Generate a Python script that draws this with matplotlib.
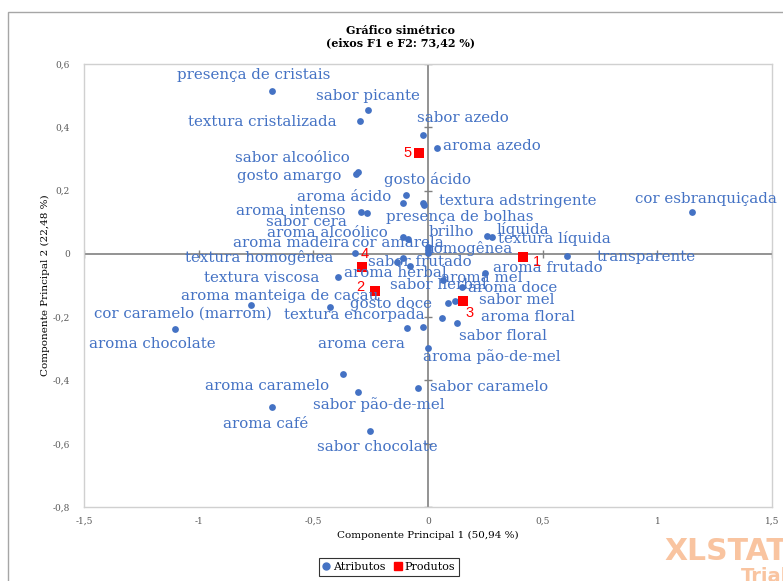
import matplotlib
matplotlib.use("Agg")
import matplotlib.pyplot as plt
from matplotlib.patches import Rectangle
from matplotlib.lines import Line2D

# ---------------- data ----------------
attr_names = [
    "presença de cristais", "sabor picante", "textura cristalizada", "sabor azedo",
    "aroma azedo", "sabor alcoólico", "gosto amargo", "gosto ácido", "aroma ácido",
    "textura adstringente", "aroma intenso", "sabor cera", "presença de bolhas",
    "cor esbranquiçada", "brilho", "líquida", "textura líquida", "aroma alcoólico",
    "aroma madeira", "cor amarela", "homogênea", "textura homogênea", "transparente",
    "aroma frutado", "sabor frutado", "aroma herbal", "aroma mel", "sabor herbal",
    "aroma doce", "gosto doce", "sabor mel", "aroma floral", "sabor floral",
    "aroma cera", "textura encorpada", "aroma manteiga de cacau",
    "cor caramelo (marrom)", "aroma chocolate", "textura viscosa",
    "aroma pão-de-mel", "aroma caramelo", "sabor caramelo", "sabor pão-de-mel",
    "aroma café", "sabor chocolate",
]
attr_f1 = [
    -0.680, -0.262, -0.297, -0.022,
    0.039, -0.314, -0.305, -0.109, -0.096,
    -0.022, -0.292, -0.266, -0.017,
    1.151, 0.000, 0.257, 0.279, -0.109,
    -0.087, -0.002, 0.002, -0.318, 0.606,
    0.249, -0.109, -0.135, 0.065, -0.078,
    0.148, 0.087, 0.118, 0.061, 0.126,
    -0.092, -0.022, -0.427,
    -0.772, -1.103, -0.392,
    0.000, -0.371, -0.044, -0.305,
    -0.680, -0.253,
]
attr_f2 = [
    0.515, 0.455, 0.420, 0.376,
    0.335, 0.253, 0.259, 0.161, 0.186,
    0.161, 0.133, 0.130, 0.155,
    0.133, 0.022, 0.057, 0.054, 0.054,
    0.047, 0.013, 0.003, 0.003, -0.006,
    -0.060, -0.013, -0.025, -0.082, -0.038,
    -0.104, -0.155, -0.149, -0.202, -0.218,
    -0.234, -0.231, -0.168,
    -0.161, -0.237, -0.073,
    -0.297, -0.379, -0.424, -0.436,
    -0.484, -0.559,
]

prod_names = ["1", "2", "3", "4", "5"]
prod_f1 = [0.416, -0.231, 0.151, -0.289, -0.041]
prod_f2 = [-0.009, -0.117, -0.148, -0.040, 0.318]

x_ticks = [-1.5, -1, -0.5, 0, 0.5, 1, 1.5]
y_ticks = [-0.8, -0.6, -0.4, -0.2, 0, 0.2, 0.4, 0.6]

# label offsets (pixels) -- styling only
attr_offsets = [
    (-18, 16), (0, 14), (-98, -1), (40, 17),
    (55, 2), (-64, 16), (-69, -4), (24, 23), (-62, -2),
    (95, 2), (-70, 1), (-61, -9), (36, -12),
    (14, 13), (23, 15), (36, 6), (62, -2), (-76, 4),
    (-117, -4), (-30, 7), (40, 4), (-96, -5), (79, -1),
    (63, 5), (17, -4), (-2, -11), (39, 2), (28, -19),
    (51, -1), (-57, -1), (62, 1), (86, 1), (46, -13),
    (-45, -16), (-69, 12), (-50, 11),
    (-68, -9), (-23, -15), (-76, -1),
    (64, -9), (-76, -12), (71, 1), (21, -13),
    (-6, -17), (7, -16),
]
prod_offsets = [(14, -5), (-15, 4), (7, -12), (3, 13), (-11, 0)]

BLUE = "#4472C4"
RED = "#FF0000"

fig = plt.figure(figsize=(7.83, 5.81), dpi=100)
fig.patches.append(Rectangle((8 / 783, -0.1), 1.2, (581 - 12) / 581 + 0.1,
                             transform=fig.transFigure, fill=False,
                             edgecolor="#A6A6A6", linewidth=1.0))

ax = fig.add_axes([84 / 783, 74 / 581, 688 / 783, 443 / 581])
ax.set_xlim(-1.5, 1.5)
ax.set_ylim(-0.8, 0.6)

for s in ax.spines.values():
    s.set_color("#D0D0D0")
    s.set_linewidth(1.0)

ax.set_xticks(x_ticks)
ax.set_yticks(y_ticks)
fmt = lambda v: ("%g" % v).replace(".", ",")
ax.set_xticklabels([fmt(v) for v in x_ticks], fontfamily="DejaVu Serif",
                   fontsize=6.5, color="#595959")
ax.set_yticklabels([fmt(v) for v in y_ticks], fontfamily="DejaVu Serif",
                   fontsize=6.5, color="#595959")
ax.tick_params(axis="x", length=0, pad=7)
ax.tick_params(axis="y", length=0, pad=10)

# zero axes with small cross ticks
ax.axhline(0, color="#808080", linewidth=1.2, zorder=1)
ax.axvline(0, color="#808080", linewidth=1.2, zorder=1)
ax.plot(x_ticks, [0] * len(x_ticks), linestyle="none", marker="|",
        markersize=6, color="#808080", markeredgewidth=1.0, zorder=1)
ax.plot([0] * len(y_ticks), y_ticks, linestyle="none", marker="_",
        markersize=6, color="#808080", markeredgewidth=1.0, zorder=1)

ax.scatter(attr_f1, attr_f2, s=24, color=BLUE, zorder=3, linewidths=0)
ax.scatter(prod_f1, prod_f2, s=50, color=RED, marker="s", zorder=4, linewidths=0)

for name, x, y, (dx, dy) in zip(attr_names, attr_f1, attr_f2, attr_offsets):
    ax.annotate(name, (x, y), xytext=(dx, dy), textcoords="offset pixels",
                ha="center", va="center", color=BLUE, fontsize=10.8,
                fontfamily="DejaVu Serif", zorder=5)
for name, x, y, (dx, dy) in zip(prod_names, prod_f1, prod_f2, prod_offsets):
    ax.annotate(name, (x, y), xytext=(dx, dy), textcoords="offset pixels",
                ha="center", va="center", color=RED, fontsize=10.5,
                fontfamily="Liberation Sans", zorder=5)

ax.set_xlabel("Componente Principal 1 (50,94 %)", fontfamily="DejaVu Serif",
              fontsize=7.5, labelpad=4)
ax.set_ylabel("Componente Principal 2 (22,48 %)", fontfamily="DejaVu Serif",
              fontsize=7.5, labelpad=2)

fig.text(400 / 783, 1 - 30 / 581, "Gráfico simétrico", ha="center", va="center",
         fontfamily="DejaVu Serif", fontweight="bold", fontsize=8)
fig.text(400 / 783, 1 - 43 / 581, "(eixos F1 e F2: 73,42 %)", ha="center", va="center",
         fontfamily="DejaVu Serif", fontweight="bold", fontsize=8)

handles = [
    Line2D([], [], linestyle="none", marker="o", color=BLUE, markersize=5),
    Line2D([], [], linestyle="none", marker="s", color=RED, markersize=6),
]
leg = fig.legend(handles, ["Atributos", "Produtos"], loc="center",
                 bbox_to_anchor=(389 / 783, 1 - 567 / 581), ncol=2,
                 frameon=True, fancybox=False, handlelength=0.6,
                 handletextpad=0.3, columnspacing=0.8, borderpad=0.35,
                 prop={"family": "DejaVu Serif", "size": 8})
leg.get_frame().set_edgecolor("black")
leg.get_frame().set_linewidth(0.8)

fig.text(664 / 783, 1 - 551 / 581, "XLSTAT", ha="left", va="center",
         fontfamily="DejaVu Sans", fontweight="bold", fontsize=21.5, color="#F9C4A0")
fig.text(741 / 783, 1 - 576 / 581, "Trial", ha="left", va="center",
         fontfamily="DejaVu Sans", fontweight="bold", fontsize=14, color="#F9C4A0")

fig.savefig("out.png", dpi=100)
